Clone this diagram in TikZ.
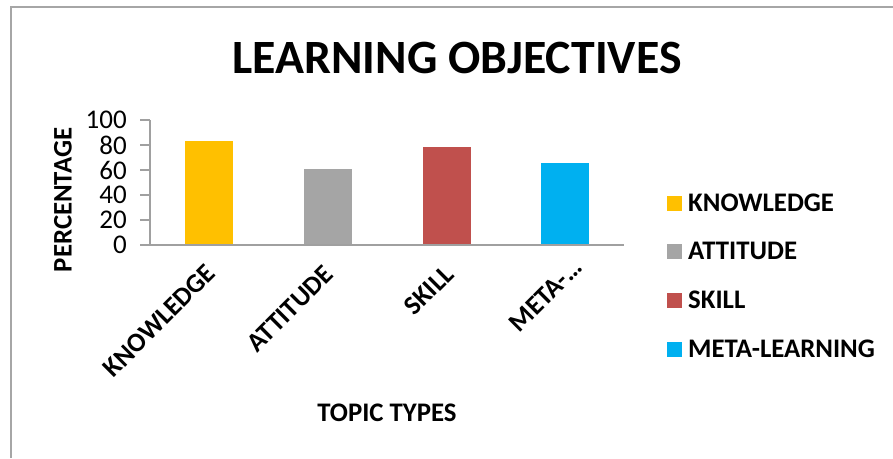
\documentclass[tikz,border=0pt]{standalone}
\usepackage{fontspec}
\setmainfont{Carlito}
\definecolor{cyel}{HTML}{FFC000}
\definecolor{cgray}{HTML}{A5A5A5}
\definecolor{cred}{HTML}{C0504D}
\definecolor{cblue}{HTML}{00B0F0}
\definecolor{axisgray}{HTML}{A0A0A0}
\definecolor{framegray}{HTML}{A6A6A6}
\begin{document}
\begin{tikzpicture}[x=1pt,y=-1pt,
  ticklab/.style={anchor=east, inner sep=0pt, font=\fontsize{27}{27}\selectfont},
  catlab/.style={anchor=east, rotate=45, inner sep=0pt, font=\fontsize{26.8}{27}\selectfont\bfseries},
  legtext/.style={anchor=west, inner sep=0pt, font=\fontsize{26.8}{27}\selectfont\bfseries},
  legbox/.style={inner sep=0pt, minimum size=15pt, draw=none},
  axtitle/.style={font=\fontsize{26.8}{27}\selectfont\bfseries},
  axline/.style={draw=axisgray, line width=1.5pt}]
\useasboundingbox (0,0) rectangle (893,458);
% frame (top and left edges)
\coordinate (f1) at (11,458);
\coordinate (f2) at (11,7);
\coordinate (f3) at (893,7);
\draw[framegray, line width=1.2pt] (f1) -- (f2) -- (f3);
% title
\node[font=\fontsize{47.8}{48}\selectfont\bfseries] (title) at (457,58) {LEARNING OBJECTIVES};
% bars
\fill[cyel] (185,245) rectangle (233,141);
\fill[cgray] (304,245) rectangle (352,169);
\fill[cred] (423,245) rectangle (471,146.5);
\fill[cblue] (541,245) rectangle (589,163);
% axes
\coordinate (o) at (150,245);
\coordinate (ytop) at (150,120);
\coordinate (xend) at (624,245);
\draw[axline] (ytop) -- (o) -- (xend);
\foreach \v in {0,20,...,100}{
  \coordinate (t\v) at (150,245-1.25*\v);
  \draw[axline] (t\v) -- ++(-10,0);
  \node[ticklab] (l\v) at (127,245-1.25*\v) {\v};
}
% category labels
\node[catlab] (c1) at (211,269) {KNOWLEDGE};
\node[catlab] (c2) at (329,270) {ATTITUDE};
\node[catlab] (c3) at (449,270) {SKILL};
\node[catlab] (c4) at (578,263) {META-\dots};
% axis titles
\node[axtitle, rotate=90] (ytitle) at (63,200) {PERCENTAGE};
\node[axtitle] (xtitle) at (387,413) {TOPIC TYPES};
% legend
\node[legbox, fill=cyel] (k1) at (674.5,203) {};
\node[legtext] (kt1) at (688,203) {KNOWLEDGE};
\node[legbox, fill=cgray] (k2) at (674.5,251) {};
\node[legtext] (kt2) at (688,251) {ATTITUDE};
\node[legbox, fill=cred] (k3) at (674.5,300) {};
\node[legtext] (kt3) at (688,300) {SKILL};
\node[legbox, fill=cblue] (k4) at (674.5,349) {};
\node[legtext] (kt4) at (688,349) {META-LEARNING};
\end{tikzpicture}
\end{document}
